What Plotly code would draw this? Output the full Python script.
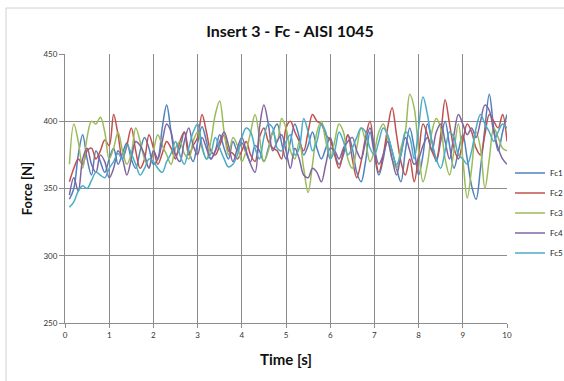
import plotly.graph_objects as go

time = [round(0.1 * i, 1) for i in range(1, 101)]

fc1 = [342, 350, 375, 390, 372, 360, 378, 370, 362, 372,
       380, 368, 376, 384, 372, 365, 378, 388, 380, 368,
       372, 395, 412, 392, 375, 380, 392, 378, 370, 384,
       396, 385, 372, 378, 390, 380, 372, 385, 378, 384,
       376, 370, 382, 378, 370, 380, 392, 398, 384, 372,
       385, 398, 388, 375, 382, 392, 380, 372, 380, 388,
       376, 368, 375, 390, 380, 362, 355, 370, 392, 375,
       360, 372, 388, 378, 365, 355, 378, 395, 380, 360,
       375, 398, 385, 370, 385, 400, 382, 365, 378, 390,
       372, 352, 342, 365, 395, 420, 395, 378, 392, 405]

fc2 = [355, 365, 372, 368, 378, 380, 372, 378, 386, 382,
       405, 390, 372, 382, 395, 378, 365, 372, 390, 380,
       368, 376, 385, 380, 372, 385, 392, 375, 382, 388,
       405, 392, 378, 375, 382, 390, 378, 376, 372, 378,
       385, 375, 370, 388, 395, 385, 380, 378, 372, 395,
       400, 392, 385, 378, 392, 405, 400, 398, 390, 386,
       375, 365, 378, 390, 372, 358, 370, 388, 400, 378,
       362, 375, 395, 410, 390, 370, 360, 372, 355, 375,
       398, 390, 378, 372, 390, 416, 398, 380, 372, 385,
       398, 392, 380, 375, 390, 405, 400, 395, 405, 385]

fc3 = [368, 398, 385, 365, 388, 400, 398, 403, 392, 372,
       380, 392, 378, 368, 376, 395, 385, 372, 366, 378,
       390, 382, 375, 368, 380, 385, 376, 372, 385, 392,
       380, 372, 385, 405, 415, 392, 375, 388, 382, 370,
       378, 392, 405, 388, 370, 378, 392, 385, 402, 395,
       378, 372, 385, 365, 347, 368, 392, 400, 385, 372,
       385, 398, 392, 372, 365, 380, 395, 385, 370, 378,
       392, 398, 388, 372, 365, 380, 392, 420, 410, 378,
       355, 368, 392, 402, 395, 372, 360, 378, 398, 372,
       343, 365, 392, 380, 350, 372, 395, 388, 380, 378]

fc4 = [345, 358, 348, 372, 380, 368, 362, 375, 370, 358,
       365, 378, 372, 360, 372, 385, 382, 375, 365, 378,
       372, 385, 398, 392, 375, 370, 385, 395, 382, 375,
       388, 380, 372, 378, 385, 392, 382, 370, 380, 388,
       378, 368, 362, 395, 412, 398, 378, 385, 390, 378,
       365, 380, 372, 360, 358, 365, 362, 355, 368, 380,
       378, 372, 380, 385, 388, 378, 372, 385, 395, 380,
       368, 375, 385, 372, 360, 375, 388, 378, 368, 372,
       382, 388, 378, 392, 398, 385, 372, 390, 405, 398,
       390, 395, 388, 400, 412, 408, 392, 380, 372, 368]

fc5 = [336, 340, 348, 352, 350, 356, 362, 360, 358, 365,
       370, 376, 372, 382, 376, 368, 360, 365, 372, 370,
       365, 362, 370, 376, 385, 375, 368, 380, 392, 398,
       382, 372, 376, 388, 380, 372, 366, 368, 375, 388,
       395, 392, 380, 372, 388, 398, 395, 380, 378, 385,
       390, 375, 380, 402, 392, 378, 385, 398, 392, 372,
       378, 392, 385, 375, 380, 388, 395, 392, 380, 375,
       385, 395, 390, 378, 368, 375, 392, 388, 372, 395,
       418, 405, 385, 372, 365, 378, 392, 388, 375, 372,
       368, 378, 395, 405, 398, 392, 385, 392, 398, 395]

series_names = ["Fc1", "Fc2", "Fc3", "Fc4", "Fc5"]
series_values = [fc1, fc2, fc3, fc4, fc5]
colors = ["#4F81BD", "#C0504D", "#9BBB59", "#8064A2", "#4BACC6"]

x_ticks = list(range(0, 11))
y_ticks = [250, 300, 350, 400, 450]

fig = go.Figure()
for name, vals, col in zip(series_names, series_values, colors):
    fig.add_trace(go.Scatter(
        x=time, y=vals, name=name, mode="lines",
        line=dict(color=col, width=1.5, shape="spline", smoothing=1.0),
        legendgroup=name,
    ))

grid_col = "#8c8c8c"
fig.update_layout(
    width=564, height=381,
    margin=dict(l=65, r=57, t=54, b=58, autoexpand=False),
    paper_bgcolor="white", plot_bgcolor="white",
    font=dict(family="Lato, sans-serif", color="#333333"),
    title=dict(text="<b>Insert 3 - Fc - AISI 1045</b>", xref="container", x=290 / 564, xanchor="center",
               y=1 - 31 / 381, yanchor="middle",
               font=dict(size=16, family="Lato, sans-serif", color="#111111")),
    showlegend=True,
    legend=dict(xref="container", yref="container",
                x=510 / 564, xanchor="left", y=1 - 213 / 381, yanchor="middle",
                font=dict(size=8, color="#222222"), tracegroupgap=1,
                bgcolor="rgba(0,0,0,0)"),
    xaxis=dict(range=[0, 10], tickvals=x_ticks, ticktext=[str(v) for v in x_ticks],
               showgrid=True, gridcolor=grid_col, gridwidth=1,
               showline=True, linecolor=grid_col, linewidth=1,
               ticks="outside", ticklen=4, tickcolor=grid_col,
               tickfont=dict(size=8, color="#333333"), zeroline=False, automargin=False,
               title=dict(text="<b>Time [s]</b>", font=dict(size=15, color="#111111"), standoff=15)),
    yaxis=dict(range=[250, 450], tickvals=y_ticks, ticktext=[str(v) for v in y_ticks],
               showgrid=True, gridcolor=grid_col, gridwidth=1,
               showline=True, linecolor=grid_col, linewidth=1,
               ticks="outside", ticklen=5, tickcolor=grid_col,
               tickfont=dict(size=8, color="#333333"), zeroline=False, automargin=False,
               title=dict(text="<b>Force [N]</b>", font=dict(size=13, color="#111111"), standoff=7)),
    shapes=[dict(type="rect", xref="paper", yref="paper",
                 x0=-59 / 442, x1=1.3, y0=-0.4, y1=1 + 46 / 269,
                 line=dict(color="#d0d0d0", width=1), fillcolor="rgba(0,0,0,0)", layer="below")],
)

fig.write_html("out.html", config={"displayModeBar": False},
               post_script="document.body.style.margin='0';document.body.style.overflow='hidden';")
